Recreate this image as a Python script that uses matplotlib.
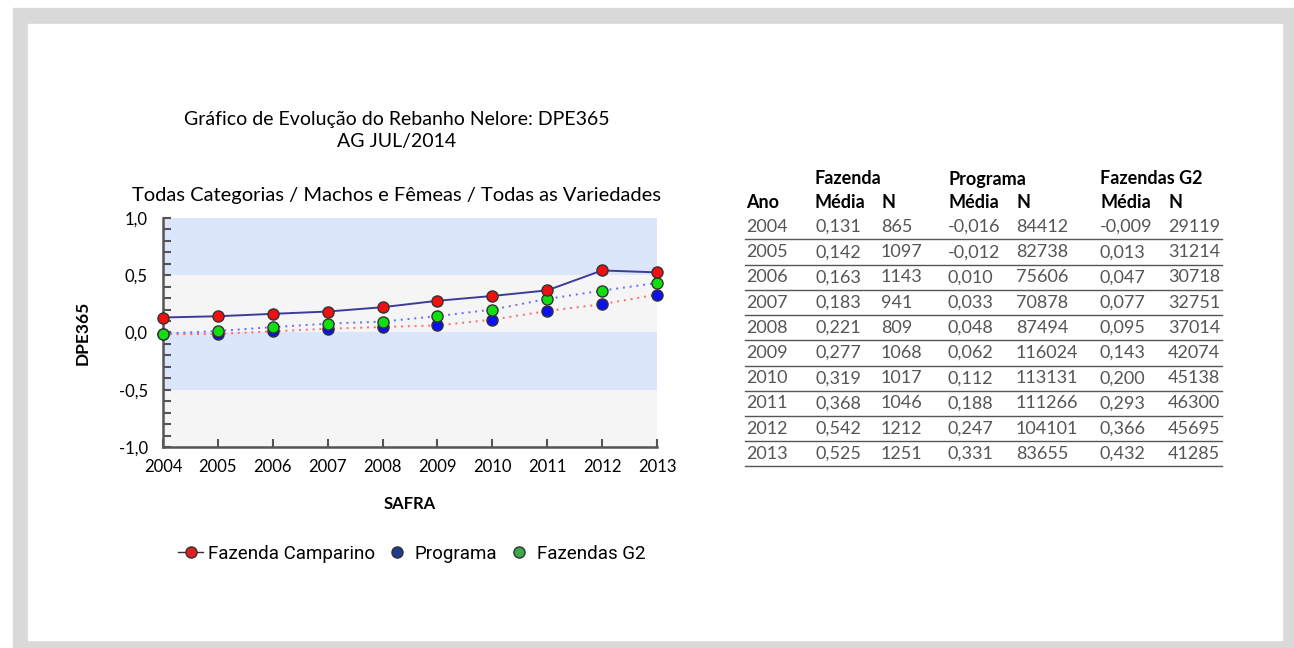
import matplotlib
matplotlib.use("Agg")
import matplotlib.pyplot as plt
from matplotlib.lines import Line2D
from matplotlib.patches import Rectangle
from matplotlib.ticker import MultipleLocator, FuncFormatter

anos = [2004, 2005, 2006, 2007, 2008, 2009, 2010, 2011, 2012, 2013]
fazenda_media = [0.131, 0.142, 0.163, 0.183, 0.221, 0.277, 0.319, 0.368, 0.542, 0.525]
fazenda_n = [865, 1097, 1143, 941, 809, 1068, 1017, 1046, 1212, 1251]
programa_media = [-0.016, -0.012, 0.010, 0.033, 0.048, 0.062, 0.112, 0.188, 0.247, 0.331]
programa_n = [84412, 82738, 75606, 70878, 87494, 116024, 113131, 111266, 104101, 83655]
g2_media = [-0.009, 0.013, 0.047, 0.077, 0.095, 0.143, 0.200, 0.293, 0.366, 0.432]
g2_n = [29119, 31214, 30718, 32751, 37014, 42074, 45138, 46300, 45695, 41285]

FONT = ["Lato", "DejaVu Sans"]
W, H = 1294, 648

plt.rcParams["font.family"] = FONT
fig = plt.figure(figsize=(W / 100, H / 100), dpi=100)


def fx(px):
    return px / W


def fy(py):
    return 1 - py / H


# grey frame around the white panel
fig.patches.append(Rectangle((fx(13), fy(648)), fx(1294 - 13), fy(8) - fy(648),
                             transform=fig.transFigure, color="#d9d9d9", zorder=-2))
fig.patches.append(Rectangle((fx(28), fy(640)), fx(1282 - 28), fy(24) - fy(640),
                             transform=fig.transFigure, color="white", zorder=-1))

# ---------- chart ----------
ax = fig.add_axes([fx(163), fy(447), fx(657 - 163), fy(218) - fy(447)])
ax.set_xlim(anos[0], anos[-1])
ax.set_ylim(-1.0, 1.0)
for lo, hi, c in [(0.5, 1.0, "#dbe5fb"), (0.0, 0.5, "#f5f5f5"),
                  (-0.5, 0.0, "#dbe5fb"), (-1.0, -0.5, "#f5f5f5")]:
    ax.axhspan(lo, hi, color=c, lw=0, zorder=0)

ax.plot(anos, programa_media, ls=(0, (1, 2.5)), color="#ff6a6a", lw=1.4, zorder=2)
ax.plot(anos, g2_media, ls=(0, (1, 2.5)), color="#6a6aff", lw=1.4, zorder=2)
ax.plot(anos, fazenda_media, ls="-", color="#3c3c9a", lw=1.4, zorder=2)
mk = dict(ls="none", marker="o", ms=8, mec="#333333", mew=1.0, clip_on=False, zorder=4)
ax.plot(anos, programa_media, mfc="#0a10f0", **mk)
ax.plot(anos, g2_media, mfc="#10e010", **mk)
ax.plot(anos, fazenda_media, mfc="#f01010", **mk)

for s in ["top", "right"]:
    ax.spines[s].set_visible(False)
for s in ["left", "bottom"]:
    ax.spines[s].set_color("#555555")
    ax.spines[s].set_linewidth(1.8)
ax.yaxis.set_major_locator(MultipleLocator(0.5))
ax.yaxis.set_minor_locator(MultipleLocator(0.1))
ax.yaxis.set_major_formatter(FuncFormatter(lambda v, p: f"{v:.1f}".replace(".", ",")))
ax.set_xticks(anos)
ax.set_xticklabels([str(a) for a in anos])
ax.tick_params(axis="both", which="both", direction="in", color="#555555", width=1.5,
               labelsize=12, colors="#555555", labelcolor="black")
ax.tick_params(axis="y", which="both", length=6, pad=11)
ax.tick_params(axis="x", length=6, pad=9)
ax.set_ylabel("DPE365", fontsize=12.5, fontweight="bold", labelpad=20)
ax.set_xlabel("SAFRA", fontsize=12, fontweight="bold", labelpad=15)

fig.text(fx(397), fy(120), "Gráfico de Evolução do Rebanho Nelore: DPE365",
         ha="center", va="center", fontsize=14)
fig.text(fx(397), fy(142), "AG JUL/2014", ha="center", va="center", fontsize=14)
fig.text(fx(397), fy(195), "Todas Categorias / Machos e Fêmeas / Todas as Variedades",
         ha="center", va="center", fontsize=14.5)

# legend
handles = [
    Line2D([], [], color="#333333", lw=1, marker="o", ms=8, mfc="#e02020", mec="#333333"),
    Line2D([], [], ls="none", marker="o", ms=8, mfc="#1f3c8c", mec="#333333"),
    Line2D([], [], ls="none", marker="o", ms=8, mfc="#3aaa4a", mec="#333333"),
]
fig.legend(handles, ["Fazenda Camparino", "Programa", "Fazendas G2"],
           loc="center", bbox_to_anchor=(fx(412), fy(554)), ncol=3, frameon=False,
           handlelength=1.3, handletextpad=0.3, columnspacing=0.5,
           prop={"family": ["Roboto", "DejaVu Sans"], "size": 13.5})

# ---------- table ----------
col_x = [746, 815, 881, 948, 1016, 1100, 1168]
fig.text(fx(815), fy(179), "Fazenda", fontsize=13, fontweight="bold", va="center")
fig.text(fx(948), fy(179), "Programa", fontsize=13, fontweight="bold", va="center")
fig.text(fx(1100), fy(179), "Fazendas G2", fontsize=13, fontweight="bold", va="center")
for x, t in zip(col_x, ["Ano", "Média", "N", "Média", "N", "Média", "N"]):
    fig.text(fx(x), fy(203), t, fontsize=13, fontweight="bold", va="center")

fmt = lambda v: f"{v:.3f}".replace(".", ",")
for i, ano in enumerate(anos):
    y = 227 + i * 25.2
    vals = [str(ano), fmt(fazenda_media[i]), str(fazenda_n[i]), fmt(programa_media[i]),
            str(programa_n[i]), fmt(g2_media[i]), str(g2_n[i])]
    for x, t in zip(col_x, vals):
        fig.text(fx(x), fy(y), t, fontsize=13, color="#555555", va="center")
    fig.add_artist(Line2D([fx(745), fx(1222)], [fy(y + 12.5)] * 2, color="#555555", lw=1))

fig.savefig("out.png", dpi=100)
